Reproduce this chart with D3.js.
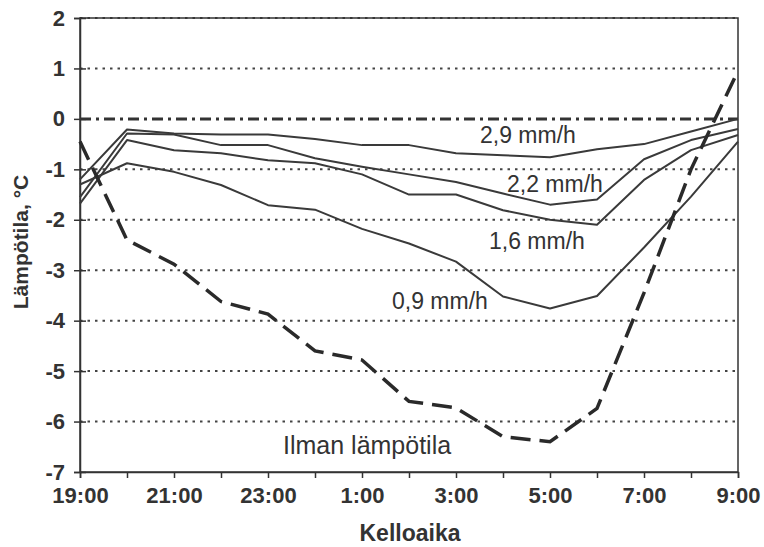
<!DOCTYPE html>
<html>
<head>
<meta charset="utf-8">
<script src="https://cdn.jsdelivr.net/npm/d3@7"></script>
<style>
  html, body { margin: 0; padding: 0; background: #fff; }
  svg { display: block; }
  text { font-family: "Liberation Sans", Arial, sans-serif; fill: #333; }
</style>
</head>
<body>
<svg id="chart" width="764" height="547"></svg>
<script>
// ---- data ----
const hours = ["19:00","20:00","21:00","22:00","23:00","0:00","1:00","2:00","3:00","4:00","5:00","6:00","7:00","8:00","9:00"];
const tickLabels = ["19:00","21:00","23:00","1:00","3:00","5:00","7:00","9:00"];
const yTicks = [2, 1, 0, -1, -2, -3, -4, -5, -6, -7];
const airTemp = [-0.45, -2.4, -2.88, -3.62, -3.87, -4.6, -4.78, -5.6, -5.73, -6.3, -6.4, -5.74, -3.45, -1.0, 0.95];
const rain29 = [-1.2, -0.21, -0.29, -0.31, -0.31, -0.4, -0.52, -0.52, -0.68, -0.72, -0.76, -0.6, -0.5, -0.25, 0.0];
const rain22 = [-1.55, -0.29, -0.31, -0.52, -0.52, -0.78, -0.95, -1.1, -1.25, -1.48, -1.7, -1.6, -0.8, -0.42, -0.2];
const rain16 = [-1.68, -0.42, -0.62, -0.68, -0.82, -0.88, -1.1, -1.5, -1.5, -1.81, -2.0, -2.1, -1.21, -0.62, -0.32];
const rain09 = [-1.3, -0.88, -1.05, -1.31, -1.71, -1.8, -2.18, -2.47, -2.83, -3.52, -3.76, -3.51, -2.55, -1.54, -0.45];
const seriesLabels = ["2,9 mm/h", "2,2 mm/h", "1,6 mm/h", "0,9 mm/h", "Ilman lämpötila"];

// ---- layout ----
const svg = d3.select("#chart");
const L = 80, R = 738, T = 18, B = 472;
const x = d3.scaleLinear().domain([0, hours.length - 1]).range([L, R]);
const y = d3.scaleLinear().domain([-7, 2]).range([B, T]);
const ink = "#333";
const fontFam = "'Liberation Sans', Arial, sans-serif";

// gridlines (dotted)
svg.append("g").selectAll("line")
  .data(yTicks.filter(v => v !== 0 && v !== -7))
  .join("line")
  .attr("x1", L).attr("x2", R)
  .attr("y1", d => y(d)).attr("y2", d => y(d))
  .attr("stroke", "#444").attr("stroke-width", 2)
  .attr("stroke-dasharray", "2.5,5");

// frame
svg.append("rect").attr("x", L).attr("y", T).attr("width", R - L).attr("height", B - T)
  .attr("fill", "none").attr("stroke", ink).attr("stroke-width", 1.5);

// y axis
const yAxis = d3.axisLeft(y).tickValues(yTicks).tickSize(6).tickFormat(d => String(d));
const gy = svg.append("g").attr("transform", `translate(${L},0)`).call(yAxis);
gy.select(".domain").attr("stroke", ink).attr("stroke-width", 1.5);
gy.selectAll(".tick line").attr("stroke", ink).attr("stroke-width", 1.5).attr("x2", 6).attr("x1", -6);
gy.selectAll(".tick text").attr("x", -15).attr("font-size", 22).attr("font-weight", "bold")
  .attr("fill", ink).style("font-family", fontFam);

// x axis
const xAxis = d3.axisBottom(x).tickValues(d3.range(hours.length)).tickSize(6)
  .tickFormat(i => tickLabels.includes(hours[i]) ? hours[i] : "");
const gx = svg.append("g").attr("transform", `translate(0,${B})`).call(xAxis);
gx.select(".domain").attr("stroke", ink).attr("stroke-width", 1.5);
gx.selectAll(".tick line").attr("stroke", ink).attr("stroke-width", 1.5);
gx.selectAll(".tick text").attr("y", 15).attr("font-size", 22).attr("font-weight", "bold")
  .attr("fill", ink).style("font-family", fontFam);

// zero line (dash-dot)
svg.append("line").attr("x1", L).attr("x2", R).attr("y1", y(0)).attr("y2", y(0))
  .attr("stroke", "#333").attr("stroke-width", 3).attr("stroke-dasharray", "11,5,3,5");

// series
const line = d3.line().x((d, i) => x(i)).y(d => y(d));
[rain29, rain22, rain16, rain09].forEach(s => {
  svg.append("path").datum(s).attr("d", line)
    .attr("fill", "none").attr("stroke", "#3a3a3a").attr("stroke-width", 2)
    .attr("stroke-linejoin", "round");
});
svg.append("path").datum(airTemp).attr("d", line)
  .attr("fill", "none").attr("stroke", "#2a2a2a").attr("stroke-width", 3.5)
  .attr("stroke-dasharray", "20,9");

// series labels
const labelPos = [[480, 143, 23], [507, 192, 23], [489, 249, 23], [392, 309, 23], [283, 454, 25]];
seriesLabels.forEach((t, i) => {
  svg.append("text").attr("x", labelPos[i][0]).attr("y", labelPos[i][1])
    .attr("font-size", labelPos[i][2]).text(t);
});

// axis titles
svg.append("text").attr("x", 410).attr("y", 541).attr("text-anchor", "middle")
  .attr("font-size", 23).attr("font-weight", "bold").text("Kelloaika");
svg.append("text").attr("transform", "translate(28,242) rotate(-90)").attr("text-anchor", "middle")
  .attr("font-size", 21).attr("font-weight", "bold").text("Lämpötila, °C");
</script>
</body>
</html>
